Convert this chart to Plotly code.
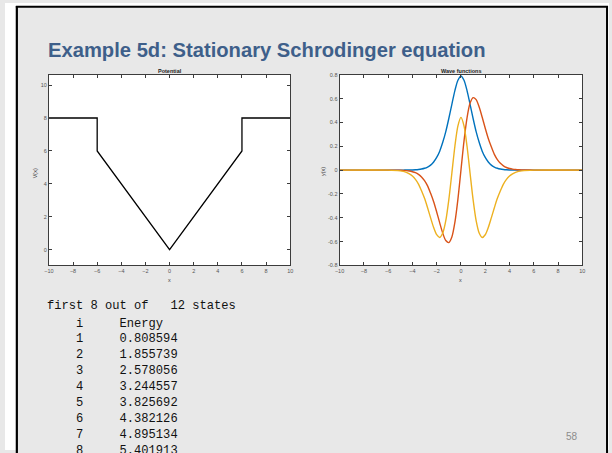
import plotly.graph_objects as go

# ---------------- data ----------------
pot_x = [-10, -6, -6, 0, 6, 6, 10]
pot_v = [8, 8, 6, 0, 6, 8, 8]

wave_x = [-10, -6,
          -5, -4.75, -4.5, -4.25, -4, -3.75, -3.5, -3.25, -3, -2.75, -2.5, -2.25, -2, -1.75, -1.5, -1.25, -1, -0.75, -0.5, -0.25,
          0,
          0.25, 0.5, 0.75, 1, 1.25, 1.5, 1.75, 2, 2.25, 2.5, 2.75, 3, 3.25, 3.5, 3.75, 4, 4.25, 4.5, 4.75, 5,
          6, 10]

psi1 = [0, 0,
        0.0001, 0.0002, 0.0004, 0.0007, 0.0014, 0.0027, 0.005, 0.009, 0.0155, 0.026, 0.042, 0.068, 0.106, 0.159, 0.233, 0.323, 0.433, 0.552, 0.667, 0.754,
        0.79,
        0.754, 0.667, 0.552, 0.433, 0.323, 0.233, 0.159, 0.106, 0.068, 0.042, 0.026, 0.0155, 0.009, 0.005, 0.0027, 0.0014, 0.0007, 0.0004, 0.0002, 0.0001,
        0, 0]

psi2 = [0, 0,
        -0.0013, -0.0025, -0.0045, -0.0078, -0.0134, -0.022, -0.036, -0.057, -0.088, -0.132, -0.195, -0.265, -0.351, -0.443, -0.529, -0.591, -0.608, -0.562, -0.438, -0.243,
        0,
        0.243, 0.438, 0.562, 0.608, 0.591, 0.529, 0.443, 0.351, 0.265, 0.195, 0.132, 0.088, 0.057, 0.036, 0.022, 0.0134, 0.0078, 0.0045, 0.0025, 0.0013,
        0, 0]

psi3 = [0, 0,
        -0.0063, -0.011, -0.0185, -0.031, -0.050, -0.078, -0.117, -0.173, -0.237, -0.316, -0.401, -0.482, -0.542, -0.565, -0.528, -0.424, -0.248, -0.026, 0.200, 0.371,
        0.442,
        0.371, 0.200, -0.026, -0.248, -0.424, -0.528, -0.565, -0.542, -0.482, -0.401, -0.316, -0.237, -0.173, -0.117, -0.078, -0.050, -0.031, -0.0185, -0.011, -0.0063,
        0, 0]

x_ticks = [-10, -8, -6, -4, -2, 0, 2, 4, 6, 8, 10]
v_ticks = [0, 2, 4, 6, 8, 10]
psi_ticks = [-0.8, -0.6, -0.4, -0.2, 0, 0.2, 0.4, 0.6, 0.8]
psi_tick_text = ["-0.8", "-0.6", "-0.4", "-0.2", "0", "0.2", "0.4", "0.6", "0.8"]

state_idx = [1, 2, 3, 4, 5, 6, 7, 8]
energies = [0.808594, 1.855739, 2.578056, 3.244557, 3.825692, 4.382126, 4.895134, 5.401913]

title_text = "Example 5d: Stationary Schrodinger equation"
page_no = "58"

# ---------------- layout helpers ----------------
W, H = 612, 453
def fx(p):
    return p / W
def fy(p):
    return 1 - p / H

NB = "\u00a0"
BG = "#e8e8e8"
AX = "#3c3c3c"
TICKFONT = dict(family="Liberation Sans, Arial", size=5.5, color="#555555")

fig = go.Figure()
fig.add_trace(go.Scatter(x=pot_x, y=pot_v, mode="lines",
                         line=dict(color="black", width=1.3),
                         xaxis="x", yaxis="y", showlegend=False))
for psi, col in [(psi1, "#0072BD"), (psi2, "#D95319"), (psi3, "#EDB120")]:
    fig.add_trace(go.Scatter(x=wave_x, y=psi, mode="lines",
                             line=dict(color=col, width=1.4, shape="spline", smoothing=0.8),
                             xaxis="x2", yaxis="y2", showlegend=False))

common = dict(showgrid=False, zeroline=False, showline=True, linecolor=AX, linewidth=1,
              mirror="allticks", ticks="inside", ticklen=3, tickwidth=0.8, tickcolor=AX,
              tickfont=TICKFONT, fixedrange=True)

y_top, y_bot = 72.7, 266
fig.update_layout(
    width=W, height=H,
    margin=dict(l=0, r=0, t=0, b=0),
    paper_bgcolor=BG, plot_bgcolor="white",
    xaxis=dict(domain=[fx(44.5), fx(289)], range=[-10, 10], tickvals=x_ticks, anchor="y", **common),
    yaxis=dict(domain=[fy(y_bot), fy(y_top)], range=[-0.96, 10.63], tickvals=v_ticks, anchor="x", **common),
    xaxis2=dict(domain=[fx(339), fx(585)], range=[-10, 10], tickvals=x_ticks, anchor="y2", **common),
    yaxis2=dict(domain=[fy(y_bot), fy(y_top)], range=[-0.8, 0.8], tickvals=psi_ticks,
                ticktext=psi_tick_text, anchor="x2", **common),
)

shapes = [
    # white outside of slide frame
    dict(type="rect", xref="paper", yref="paper", x0=0, x1=fx(11), y0=0, y1=1,
         fillcolor="white", line=dict(width=0), layer="above"),
    dict(type="rect", xref="paper", yref="paper", x0=0, x1=1, y0=fy(3), y1=1,
         fillcolor="white", line=dict(width=0), layer="above"),
    dict(type="rect", xref="paper", yref="paper", x0=fx(611), x1=1, y0=0, y1=1,
         fillcolor="white", line=dict(width=0), layer="above"),
    # frame lines
    dict(type="line", xref="paper", yref="paper", x0=fx(12), x1=fx(12), y0=-0.01, y1=fy(3),
         line=dict(color="black", width=2.2), layer="above"),
    dict(type="line", xref="paper", yref="paper", x0=fx(11), x1=fx(611), y0=fy(3.8), y1=fy(3.8),
         line=dict(color="black", width=2), layer="above"),
    dict(type="line", xref="paper", yref="paper", x0=fx(610), x1=fx(610), y0=-0.01, y1=fy(3),
         line=dict(color="black", width=2), layer="above"),
]
fig.update_layout(shapes=shapes)

ann = []
def add_text(text, x, y, size, color="#222222", family="Liberation Sans, Arial", xanchor="center",
             yanchor="middle", angle=0, bold=False):
    t = f"<b>{text}</b>" if bold else text
    ann.append(dict(text=t, x=fx(x), y=fy(y), xref="paper", yref="paper", showarrow=False,
                    xanchor=xanchor, yanchor=yanchor, textangle=angle,
                    font=dict(size=size, color=color, family=family)))

add_text(title_text, 41.5, 47.5, 20.2, color="#3E5F8A", xanchor="left", bold=True)
add_text("Potential", 167, 68.5, 5.5, bold=True)
add_text("Wave functions", 462, 68.5, 5.5, bold=True)
add_text("x", 167, 280.5, 5.5, color="#444444")
add_text("x", 462, 280.5, 5.5, color="#444444")
add_text("V(x)", 30, 173, 5.5, color="#444444", angle=-90)
add_text("y(x)", 321.5, 171, 5.5, color="#444444", angle=-90)

MONO = "Liberation Mono, DejaVu Sans Mono, monospace"
def mono_line(s, y):
    add_text(s.replace(" ", NB), 40.5, y, 12.1, color="#111111", family=MONO, xanchor="left")

mono_line(f"first {len(state_idx)} out of   12 states", 307.5)
mono_line("    i     Energy", 325)
for k, (i, e) in enumerate(zip(state_idx, energies)):
    mono_line(f"    {i}     {e:.6f}", 341 + 16.1 * k)

add_text(page_no, 575, 439.5, 10, color="#8c8c8c")

fig.update_layout(annotations=ann)
fig.write_html("out.html")
